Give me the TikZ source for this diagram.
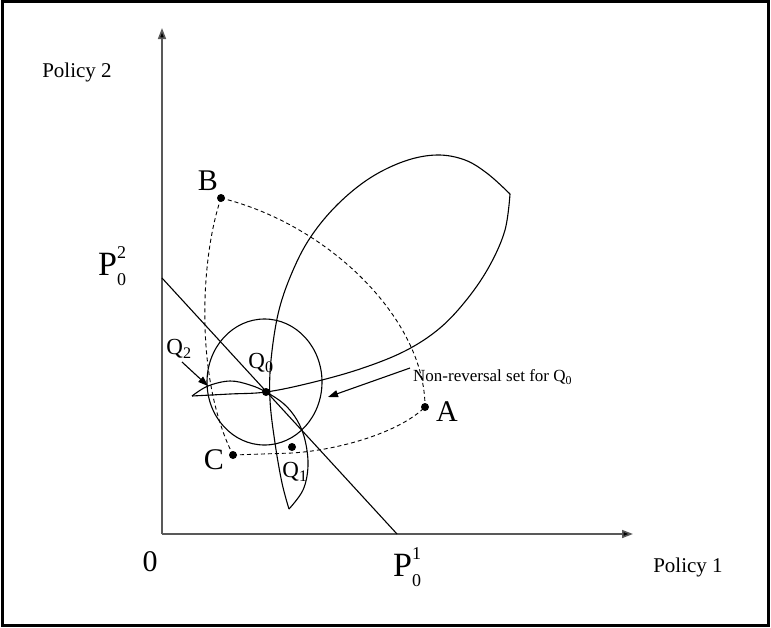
\documentclass[tikz,border=0pt]{standalone}
\usepackage{fontspec}
\setmainfont{Liberation Serif}
\usetikzlibrary{arrows.meta}
\newcommand{\supsub}[3]{#1\rlap{\raisebox{0.5em}{\fontsize{18}{18}\selectfont #2}}\raisebox{-0.28em}{\fontsize{18}{18}\selectfont #3}}
\tikzset{
  dot/.style={circle,fill=black,inner sep=0pt,minimum size=8pt},
  curve/.style={line width=1.1pt,black},
  dashcurve/.style={line width=0.9pt,dash pattern=on 4pt off 3pt},
  axis/.style={line width=1.6pt,draw=black!65,-{Triangle[length=11pt,width=8pt,fill=black]}},
  ptr/.style={line width=1.1pt,-{Triangle[length=10pt,width=7pt]}},
  small/.style={font=\fontsize{21}{23}\selectfont,inner sep=0pt},
  qlab/.style={font=\fontsize{23}{25}\selectfont,inner sep=0pt},
  note/.style={font=\fontsize{17}{19}\selectfont,inner sep=0pt},
  big/.style={font=\fontsize{30}{32}\selectfont,inner sep=0pt},
  plab/.style={font=\fontsize{34}{36}\selectfont,inner sep=0pt}
}
\begin{document}
\begin{tikzpicture}[x=1pt,y=-1pt]
\useasboundingbox (0,0) rectangle (771,627);
\draw[line width=3pt] (2,1.5) rectangle (768.5,625);
% axes
\coordinate (O) at (162,534);
\coordinate (ytop) at (162,28);
\coordinate (xend) at (633,534);
\draw[axis] (O) -- (ytop);
\draw[axis] (O) -- (xend);
% budget line
\coordinate (P2) at (162,278);
\coordinate (P1) at (397,534);
\draw[curve] (P2) -- (P1);
% circle
\draw[curve] (264.5,382) ellipse [x radius=57.5, y radius=63];
% big leaf
\draw[curve] plot[smooth,tension=0.6] coordinates {(289,509) (282,483) (275,443) (270,400) (271,360) (279,310) (294,268) (312,235) (338,204) (370,178) (405,161) (437,155) (465,160) (488,174) (510,194)};
\draw[curve] plot[smooth,tension=0.6] coordinates {(510,194) (505,230) (490,265) (468,298) (440,328) (405,351) (360,369) (310,383) (266,392) (230,394) (192,396)};
% lens arc
\draw[curve] plot[smooth,tension=0.6] coordinates {(192,396) (208,386) (230,381) (250,385) (266,392) (284,404) (297,420) (305,440) (308,466) (303,490) (289,509)};
% points
\node[dot] (Bd) at (221,198) {};
\node[dot] (Ad) at (425,407) {};
\node[dot] (Cd) at (233,455) {};
\node[dot] (Q0d) at (266,392) {};
\node[dot] (Q1d) at (292,447) {};
\coordinate (Cmid) at (292,453);
% dashed boundary
\draw[dashcurve] (Bd.center) .. controls (330,225) and (425,320) .. (Ad.center);
\draw[dashcurve] (Bd.center) .. controls (200,260) and (195,380) .. (Cd.center);
\draw[dashcurve] (Cd.center) -- (Cmid) .. controls (340,450) and (400,432) .. (Ad.center);
% labels
\node[big] (Bl) at (208,181) {B};
\node[big] (Al) at (447,412) {A};
\node[big] (Cl) at (214,460) {C};
\node[big] (zero) at (150,562) {0};
\node[plab,anchor=west] (P1l) at (393,567) {\supsub{P}{1}{0}};
\node[plab,anchor=west] (P2l) at (98,266) {\supsub{P}{2}{0}};
\node[small] (pol2) at (77,72) {Policy 2};
\node[small] (pol1) at (688,567) {Policy 1};
\node[qlab] (Q0l) at (261,363) {Q\textsubscript{0}};
\node[qlab] (Q1l) at (295,472) {Q\textsubscript{1}};
\node[qlab] (Q2l) at (179,349) {Q\textsubscript{2}};
\node[note,anchor=west] (nr) at (413,377) {Non-reversal set for Q\textsubscript{0}};
% pointers
\coordinate (q2tail) at (182,362);
\coordinate (q2tip) at (208,386);
\draw[ptr] (q2tail) -- (q2tip);
\coordinate (nrtip) at (328,397);
\coordinate (nrtail) at (410,368);
\draw[ptr] (nrtail) -- (nrtip);
\end{tikzpicture}
\end{document}
